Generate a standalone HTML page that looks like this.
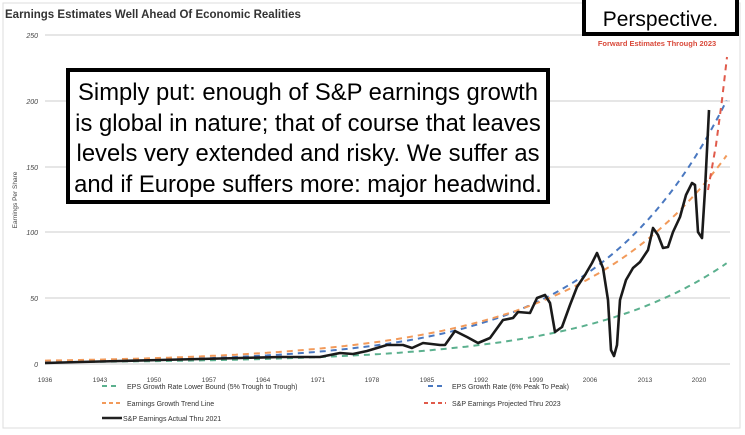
<!DOCTYPE html>
<html><head><style>
body{margin:0;background:#fff;width:745px;height:435px;overflow:hidden;position:relative;font-family:"Liberation Sans",sans-serif}
.box{position:absolute;border:4px solid #000;background:#fff;color:#000;box-sizing:border-box}
</style></head><body>
<svg width="745" height="435" style="position:absolute;left:0;top:0">
<rect x="3" y="3" width="737" height="425" fill="none" stroke="#ddd"/>
<text x="5" y="18" font-size="11.5" font-weight="bold" fill="#333">Earnings Estimates Well Ahead Of Economic Realities</text>
<g stroke="#ddd" stroke-width="1.5">
<line x1="45" y1="35" x2="730" y2="35"/><line x1="45" y1="101" x2="730" y2="101"/><line x1="45" y1="167" x2="730" y2="167"/><line x1="45" y1="232" x2="730" y2="232"/><line x1="45" y1="298" x2="730" y2="298"/><line x1="45" y1="364" x2="730" y2="364"/>
</g>
<g font-size="7" fill="#444" text-anchor="end" font-style="italic">
<text x="38" y="38">250</text><text x="38" y="104">200</text><text x="38" y="170">150</text><text x="38" y="235">100</text><text x="38" y="301">50</text><text x="38" y="367">0</text>
</g>
<text transform="translate(17,200) rotate(-90)" font-size="6.5" fill="#444" text-anchor="middle">Earnings Per Share</text>
<g font-size="6.5" fill="#444" text-anchor="middle">
<text x="45" y="382">1936</text><text x="100" y="382">1943</text><text x="154" y="382">1950</text><text x="209" y="382">1957</text><text x="263" y="382">1964</text><text x="318" y="382">1971</text><text x="372" y="382">1978</text><text x="427" y="382">1985</text><text x="481" y="382">1992</text><text x="536" y="382">1999</text><text x="590" y="382">2006</text><text x="645" y="382">2013</text><text x="699" y="382">2020</text>
</g>
<g fill="none" stroke-width="2" stroke-dasharray="6,5">
<path id="g" stroke="#5bb08e" d="" />
<path id="b" stroke="#4a78c0" d="" />
<path id="o" stroke="#f29a5a" d="" />
<path stroke="#e05a4a" d="M708 190 L716 145 L722 100 L727 57"/>
</g>
<polyline fill="none" stroke="#1a1a1a" stroke-width="2.6" stroke-linejoin="round" points="45,363 80,362 120,361 160,360 200,359 240,358 280,357 300,357 320,357 340,353 353,354 367,351 387,345 403,345 412,348 423,343 440,345 445,345 455,331 467,337 478,343 490,338 503,320 513,318 518,312 530,313 537,298 545,295 550,303 555,332 562,327 570,305 577,287 585,275 592,263 597,253 603,268 608,300 611,350 614,356 617,345 620,300 626,280 633,268 640,262 648,250 653,228 658,235 663,248 668,247 673,232 680,217 686,195 692,183 695,185 698,232 702,238 705,190 709,110"/>
<text x="657" y="46" font-size="7.5" font-weight="bold" fill="#d9493a" text-anchor="middle">Forward Estimates Through 2023</text>
<g font-size="7" fill="#333">
<line x1="102" y1="386" x2="120" y2="386" stroke="#5bb08e" stroke-width="2" stroke-dasharray="5,4"/><text x="127" y="389">EPS Growth Rate Lower Bound (5% Trough to Trough)</text>
<line x1="428" y1="386" x2="446" y2="386" stroke="#4a78c0" stroke-width="2" stroke-dasharray="5,4"/><text x="452" y="389">EPS Growth Rate (6% Peak To Peak)</text>
<line x1="102" y1="403" x2="120" y2="403" stroke="#f29a5a" stroke-width="2" stroke-dasharray="4,3"/><text x="127" y="406">Earnings Growth Trend Line</text>
<line x1="424" y1="403" x2="446" y2="403" stroke="#e05a4a" stroke-width="2" stroke-dasharray="4,3"/><text x="452" y="406">S&amp;P Earnings Projected Thru 2023</text>
<line x1="102" y1="418" x2="122" y2="418" stroke="#222" stroke-width="2.5"/><text x="123" y="421">S&amp;P Earnings Actual Thru 2021</text>
</g>
</svg>
<div class="box" style="left:66px;top:68px;width:484px;height:136px;font-size:23.8px;line-height:30.5px;text-align:center;padding-top:6px;white-space:nowrap">Simply put: enough of S&amp;P earnings growth<br>is global in nature; that of course that leaves<br>levels very extended and risky. We suffer as<br>and if Europe suffers more: major headwind.</div>
<div class="box" style="left:582px;top:-4px;width:157px;height:40px;font-size:21px;text-align:center;padding-top:8px">Perspective.</div>
<script>
function curve(id,end,rate){var d="";for(var yr=1936;yr<=2023.5;yr+=0.5){var v=end*Math.exp(-rate*(2023.5-yr));var x=45+(yr-1936)*7.79;var y=363-v*1.313;d+=(d?"L":"M")+x.toFixed(1)+" "+y.toFixed(1);}document.getElementById(id).setAttribute("d",d);}
curve("b",200,0.06);curve("o",158,0.051);curve("g",76,0.054);
</script>
</body></html>
